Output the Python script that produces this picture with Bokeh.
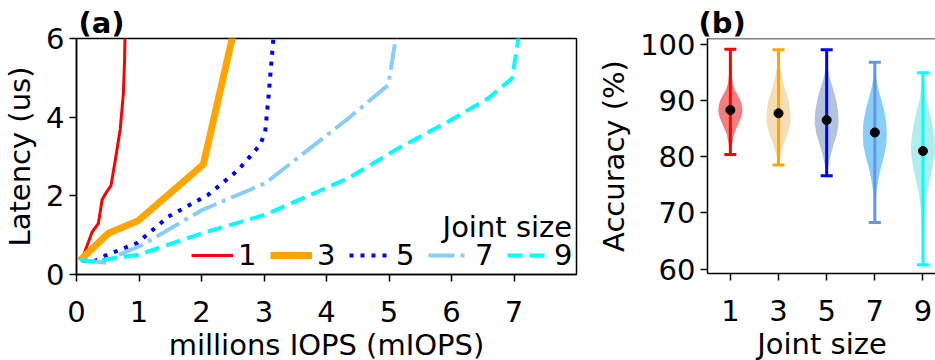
from bokeh.plotting import figure
from bokeh.layouts import row
from bokeh.models import Legend, LegendItem, Label, Span, FixedTicker
from bokeh.embed import file_html
from bokeh.resources import INLINE

FONT = "DejaVu Sans"
FS = "29px"

# ---------------- data: panel (a) latency vs throughput ----------------
joint_sizes = ["1", "3", "5", "7", "9"]

j1_miops = [0.08, 0.25, 0.35, 0.41, 0.49, 0.55, 0.62, 0.70, 0.75, 0.77, 0.78]
j1_lat = [0.35, 1.08, 1.30, 1.90, 2.12, 2.25, 2.90, 3.70, 4.60, 5.50, 6.50]

j3_miops = [0.05, 0.51, 0.99, 2.03, 2.52]
j3_lat = [0.35, 1.05, 1.37, 2.80, 6.20]

j5_miops = [0.10, 0.30, 0.46, 0.97, 1.47, 2.11, 2.59, 2.94, 3.02, 3.07, 3.14, 3.16]
j5_lat = [0.35, 0.35, 0.48, 0.80, 1.47, 2.03, 2.66, 3.30, 3.64, 4.48, 5.80, 6.20]

j7_miops = [0.06, 0.51, 0.62, 1.05, 2.01, 3.02, 4.35, 4.99, 5.10, 5.13]
j7_lat = [0.37, 0.29, 0.46, 0.75, 1.64, 2.32, 3.97, 4.82, 5.92, 6.30]

j9_miops = [0.06, 0.30, 0.57, 0.99, 2.01, 3.02, 4.35, 5.15, 5.95, 6.59, 6.97, 7.09]
j9_lat = [0.37, 0.33, 0.41, 0.50, 1.05, 1.52, 2.45, 3.21, 3.89, 4.48, 4.99, 6.20]

x_ticks_a = [0, 1, 2, 3, 4, 5, 6, 7]
y_ticks_a = [0, 2, 4, 6]

# ---------------- data: panel (b) accuracy violins ----------------
acc_min = [80.4, 78.5, 76.6, 68.3, 60.8]
acc_max = [99.1, 99.0, 99.0, 96.8, 94.9]
acc_mean = [88.3, 87.7, 86.5, 84.3, 81.0]

violin_levels_1 = [80.4, 82, 84, 86, 87, 88, 89, 90, 91, 92, 93, 95, 97, 99.1]
violin_width_1 = [0.03, 0.12, 0.3, 0.7, 0.9, 1.0, 0.97, 0.85, 0.6, 0.35, 0.2, 0.1, 0.08, 0.05]
violin_levels_3 = [78.5, 80, 82, 84, 86, 88, 90, 92, 94, 96, 99.0]
violin_width_3 = [0.05, 0.15, 0.4, 0.75, 1.0, 0.97, 0.85, 0.55, 0.3, 0.12, 0.05]
violin_levels_5 = [76.6, 78, 80, 82, 84, 86, 88, 90, 92, 94, 96, 99.0]
violin_width_5 = [0.03, 0.1, 0.3, 0.55, 0.85, 1.0, 0.95, 0.8, 0.55, 0.25, 0.08, 0.04]
violin_levels_7 = [68.3, 70, 72, 74, 76, 78, 80, 82, 84, 86, 88, 90, 92, 94, 96.8]
violin_width_7 = [0.03, 0.05, 0.08, 0.15, 0.3, 0.5, 0.75, 0.95, 1.0, 0.95, 0.8, 0.55, 0.3, 0.12, 0.04]
violin_levels_9 = [60.8, 64, 67, 70, 73, 76, 78, 80, 82, 84, 86, 88, 90, 92, 94.9]
violin_width_9 = [0.02, 0.04, 0.08, 0.15, 0.3, 0.6, 0.8, 0.95, 1.0, 0.9, 0.75, 0.55, 0.3, 0.15, 0.04]

y_ticks_b = [60, 70, 80, 90, 100]

# ---------------- styles ----------------
line_colors = ["red", "orange", "blue", "lightskyblue", "cyan"]
line_widths = [3, 7, 4, 4, 4]
line_dashes = ["solid", "solid", "4 7", "26 6 4 6", "15 7"]
whisker_colors = ["red", "orange", "blue", "cornflowerblue", "cyan"]
fill_colors = ["lightcoral", "wheat", "lightsteelblue", "lightskyblue", "paleturquoise"]


def style_axes(p):
    for ax in (p.xaxis, p.yaxis):
        ax.axis_line_width = 1.5
        ax.axis_line_color = "black"
        ax.major_tick_line_width = 1.5
        ax.major_tick_line_color = "black"
        ax.major_tick_out = 7
        ax.major_tick_in = 0
        ax.minor_tick_line_color = None
        ax.major_label_text_font = FONT
        ax.major_label_text_font_size = FS
        ax.major_label_text_color = "black"
        ax.axis_label_text_font = FONT
        ax.axis_label_text_font_size = FS
        ax.axis_label_text_font_style = "normal"
        ax.axis_label_text_color = "black"
    p.xaxis.major_label_standoff = 19
    p.xaxis.axis_label_standoff = 3
    p.yaxis.major_label_standoff = 5
    p.yaxis.axis_label_standoff = 6
    p.xgrid.grid_line_color = None
    p.ygrid.grid_line_color = None
    p.title.text_font = FONT
    p.title.text_font_size = FS
    p.title.text_font_style = "bold"
    p.title.text_color = "black"
    p.title.align = "left"
    p.title.standoff = -3
    p.background_fill_color = "white"
    p.border_fill_color = "white"


# ---------------- panel (a) ----------------
p1 = figure(frame_width=500, frame_height=236, x_range=(0, 8), y_range=(0, 6),
            min_border_left=75, min_border_right=15, min_border_top=37, min_border_bottom=87,
            output_backend="svg", toolbar_location=None, title="(a)")
style_axes(p1)
p1.title.offset = 2
p1.outline_line_color = "black"
p1.outline_line_width = 1.5
p1.xaxis.ticker = FixedTicker(ticks=x_ticks_a)
p1.yaxis.ticker = FixedTicker(ticks=y_ticks_a)
p1.xaxis.axis_label = "millions IOPS (mIOPS)"
p1.yaxis.axis_label = "Latency (us)"

series = [(j1_miops, j1_lat), (j3_miops, j3_lat), (j5_miops, j5_lat),
          (j7_miops, j7_lat), (j9_miops, j9_lat)]
items = []
for i, (xs, ys) in enumerate(series):
    r = p1.line(xs, ys, line_color=line_colors[i], line_width=line_widths[i],
                line_dash=line_dashes[i], line_join="miter")
    items.append(LegendItem(label=joint_sizes[i], renderers=[r]))

legend = Legend(items=items, orientation="horizontal", location="bottom_right",
                glyph_width=42, glyph_height=20, label_standoff=5, spacing=12,
                padding=2, margin=2, border_line_color=None, background_fill_alpha=0,
                label_text_font=FONT, label_text_font_size=FS, label_text_color="black",
                label_height=30)
p1.add_layout(legend)
p1.add_layout(Label(x=7.93, y=1.22, text="Joint size", text_align="right",
                    text_baseline="alphabetic", text_font=FONT, text_font_size=FS,
                    text_color="black"))

# ---------------- panel (b) ----------------
positions = [1, 2, 3, 4, 5]
p2 = figure(frame_width=229, frame_height=235, x_range=(0.525, 5.281), y_range=(59.23, 101.0),
            min_border_left=116, min_border_right=0, min_border_top=38, min_border_bottom=87,
            output_backend="svg", toolbar_location=None, title="(b)")
style_axes(p2)
p2.title.offset = -9
p2.outline_line_color = None
p2.add_layout(Span(location=101.0, dimension="width", line_color="black", line_width=1.5))
p2.xaxis.ticker = FixedTicker(ticks=positions)
p2.xaxis.major_label_overrides = {positions[i]: joint_sizes[i] for i in range(5)}
p2.yaxis.ticker = FixedTicker(ticks=y_ticks_b)
p2.xaxis.axis_label = "Joint size"
p2.yaxis.axis_label = "Accuracy (%)"

violin_levels = [violin_levels_1, violin_levels_3, violin_levels_5, violin_levels_7, violin_levels_9]
violin_widths = [violin_width_1, violin_width_3, violin_width_5, violin_width_7, violin_width_9]
half = 0.25
pxs, pys = [], []
for i in range(5):
    c = positions[i]
    lv = violin_levels[i]
    w = violin_widths[i]
    right = [c + half * v for v in w]
    left = [c - half * v for v in w][::-1]
    pxs.append(right + left)
    pys.append(lv + lv[::-1])
p2.patches(pxs, pys, fill_color=fill_colors, fill_alpha=1.0, line_color=None)

cap = 0.125
p2.segment(x0=positions, y0=acc_min, x1=positions, y1=acc_max, line_color=whisker_colors, line_width=3)
p2.segment(x0=[c - cap for c in positions], y0=acc_min, x1=[c + cap for c in positions], y1=acc_min,
           line_color=whisker_colors, line_width=3)
p2.segment(x0=[c - cap for c in positions], y0=acc_max, x1=[c + cap for c in positions], y1=acc_max,
           line_color=whisker_colors, line_width=3)
p2.scatter(positions, acc_mean, size=9, color="black")

layout = row(p1, p2)
open("out.html", "w").write(file_html(layout, INLINE))
